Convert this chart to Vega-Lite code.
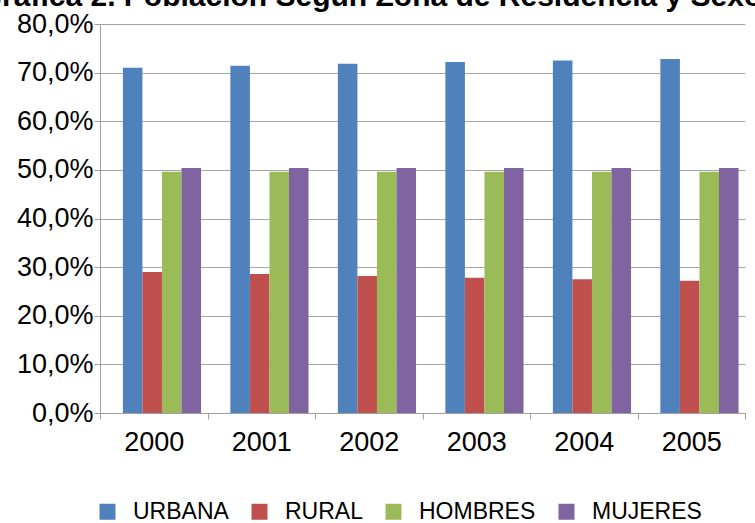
{
  "$schema": "https://vega.github.io/schema/vega-lite/v6.json",
  "autosize": {"type": "none"},
  "width": 645,
  "height": 389,
  "padding": {"left": 100, "top": 24, "right": 10, "bottom": 110},
  "background": "white",
  "data": {
    "values": [
      {"anio": "2000", "serie": "URBANA", "valor": 71.0},
      {"anio": "2000", "serie": "RURAL", "valor": 29.0},
      {"anio": "2000", "serie": "HOMBRES", "valor": 49.6},
      {"anio": "2000", "serie": "MUJERES", "valor": 50.4},
      {"anio": "2001", "serie": "URBANA", "valor": 71.4},
      {"anio": "2001", "serie": "RURAL", "valor": 28.6},
      {"anio": "2001", "serie": "HOMBRES", "valor": 49.6},
      {"anio": "2001", "serie": "MUJERES", "valor": 50.4},
      {"anio": "2002", "serie": "URBANA", "valor": 71.8},
      {"anio": "2002", "serie": "RURAL", "valor": 28.2},
      {"anio": "2002", "serie": "HOMBRES", "valor": 49.6},
      {"anio": "2002", "serie": "MUJERES", "valor": 50.4},
      {"anio": "2003", "serie": "URBANA", "valor": 72.2},
      {"anio": "2003", "serie": "RURAL", "valor": 27.8},
      {"anio": "2003", "serie": "HOMBRES", "valor": 49.6},
      {"anio": "2003", "serie": "MUJERES", "valor": 50.4},
      {"anio": "2004", "serie": "URBANA", "valor": 72.5},
      {"anio": "2004", "serie": "RURAL", "valor": 27.5},
      {"anio": "2004", "serie": "HOMBRES", "valor": 49.6},
      {"anio": "2004", "serie": "MUJERES", "valor": 50.4},
      {"anio": "2005", "serie": "URBANA", "valor": 72.8},
      {"anio": "2005", "serie": "RURAL", "valor": 27.2},
      {"anio": "2005", "serie": "HOMBRES", "valor": 49.6},
      {"anio": "2005", "serie": "MUJERES", "valor": 50.4}
    ]
  },
  "mark": {"type": "bar", "stroke": null},
  "encoding": {
    "x": {
      "field": "anio",
      "type": "nominal",
      "title": null,
      "scale": {"paddingInner": 0, "paddingOuter": 0},
      "axis": {
        "labelAngle": 0,
        "labelFont": "Liberation Sans",
        "labelFontSize": 27,
        "labelColor": "black",
        "labelPadding": 10,
        "tickBand": "extent",
        "tickColor": "#A0A0A0",
        "tickSize": 6,
        "domainColor": "#A0A0A0",
        "grid": false
      }
    },
    "xOffset": {
      "field": "serie",
      "type": "nominal",
      "sort": ["URBANA", "RURAL", "HOMBRES", "MUJERES"],
      "scale": {"paddingInner": 0, "paddingOuter": 0.75, "align": 0.78}
    },
    "y": {
      "field": "valor",
      "type": "quantitative",
      "title": "Gráfica 2. Población Según Zona de Residencia y Sexo",
      "scale": {"domain": [0, 80], "nice": false},
      "axis": {
        "values": [0, 10, 20, 30, 40, 50, 60, 70, 80],
        "labelExpr": "replace(format(datum.value, '.1f'), '.', ',') + '%'",
        "labelFont": "Liberation Sans",
        "labelFontSize": 27,
        "labelColor": "black",
        "labelPadding": 1,
        "tickColor": "#A0A0A0",
        "tickSize": 6,
        "domainColor": "#A0A0A0",
        "gridColor": "#A6A6A6",
        "gridWidth": 1.2,
        "titleFont": "Liberation Sans",
        "titleFontSize": 30,
        "titleFontWeight": "bold",
        "titleColor": "black",
        "titleAngle": 0,
        "titleAlign": "center",
        "titleBaseline": "alphabetic",
        "titleX": 270,
        "titleY": -19,
        "titleLimit": 2000
      }
    },
    "color": {
      "field": "serie",
      "type": "nominal",
      "sort": ["URBANA", "RURAL", "HOMBRES", "MUJERES"],
      "scale": {
        "domain": ["URBANA", "RURAL", "HOMBRES", "MUJERES"],
        "range": ["#4F81BD", "#C0504D", "#9BBB59", "#8064A2"]
      },
      "legend": {
        "title": null,
        "orient": "none",
        "legendX": -4,
        "legendY": 476,
        "direction": "horizontal",
        "symbolType": "square",
        "symbolSize": 256,
        "symbolStrokeWidth": 0,
        "labelFont": "Liberation Sans",
        "labelFontSize": 23,
        "labelColor": "black",
        "labelLimit": 250,
        "columnPadding": 19,
        "labelOffset": 14
      }
    }
  },
  "config": {
    "view": {"stroke": null}
  }
}
